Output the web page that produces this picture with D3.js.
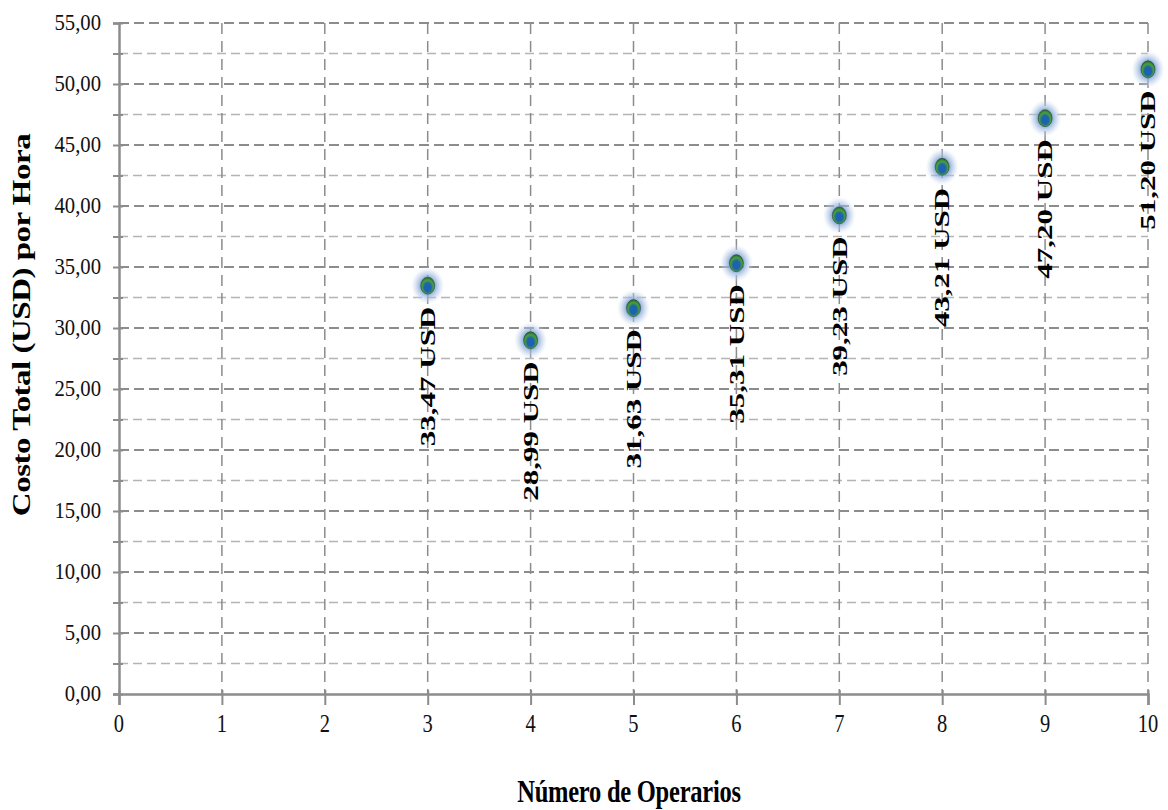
<!DOCTYPE html>
<html>
<head>
<meta charset="utf-8">
<script src="https://cdn.jsdelivr.net/npm/d3@7"></script>
<style>
  html, body { margin: 0; padding: 0; background: #fff; }
  svg { display: block; }
</style>
</head>
<body>
<svg id="chart" width="1168" height="810"></svg>
<script>
// ---- data ----
const operarios = [3, 4, 5, 6, 7, 8, 9, 10];
const costoTotal = [33.47, 28.99, 31.63, 35.31, 39.23, 43.21, 47.20, 51.20];
const pointLabels = ["33,47 USD", "28,99 USD", "31,63 USD", "35,31 USD", "39,23 USD", "43,21 USD", "47,20 USD", "51,20 USD"];
const xTickValues = [0, 1, 2, 3, 4, 5, 6, 7, 8, 9, 10];
const yTickValues = [0, 5, 10, 15, 20, 25, 30, 35, 40, 45, 50, 55];
const yMinorValues = [2.5, 7.5, 12.5, 17.5, 22.5, 27.5, 32.5, 37.5, 42.5, 47.5, 52.5];
const xTitle = "Número de Operarios";
const yTitle = "Costo Total (USD) por Hora";

// ---- layout ----
const svg = d3.select("#chart");
const x = d3.scaleLinear().domain([0, 10]).range([119, 1148]);
const y = d3.scaleLinear().domain([0, 55]).range([694, 23]);
const fmt = v => d3.format(".2f")(v).replace(".", ",");
const serif = "'Liberation Serif', 'Times New Roman', serif";

const defs = svg.append("defs");
const mg = defs.append("radialGradient").attr("id", "marker").attr("cx", "50%").attr("cy", "58%").attr("r", "55%").attr("fx", "50%").attr("fy", "62%");
mg.append("stop").attr("offset", "0%").attr("stop-color", "#1a5fc0");
mg.append("stop").attr("offset", "45%").attr("stop-color", "#1f64a6");
mg.append("stop").attr("offset", "75%").attr("stop-color", "#47a23a");
mg.append("stop").attr("offset", "100%").attr("stop-color", "#2c6b34");
const hg = defs.append("radialGradient").attr("id", "halo");
hg.append("stop").attr("offset", "0%").attr("stop-color", "#4f80c8").attr("stop-opacity", 1);
hg.append("stop").attr("offset", "45%").attr("stop-color", "#7fa2d6").attr("stop-opacity", 0.8);
hg.append("stop").attr("offset", "75%").attr("stop-color", "#b9cce8").attr("stop-opacity", 0.45);
hg.append("stop").attr("offset", "100%").attr("stop-color", "#e6edf7").attr("stop-opacity", 0);

// ---- grid ----
const grid = svg.append("g");
grid.selectAll("line.minor").data(yMinorValues).join("line")
  .attr("x1", x(0)).attr("x2", x(10)).attr("y1", d => y(d)).attr("y2", d => y(d))
  .attr("stroke", "#b4b4b4").attr("stroke-width", 1.5).attr("stroke-dasharray", "9,5");
grid.selectAll("line.major").data(yTickValues.filter(d => d > 0)).join("line")
  .attr("x1", x(0)).attr("x2", x(10)).attr("y1", d => y(d)).attr("y2", d => y(d))
  .attr("stroke", "#8c8c8c").attr("stroke-width", 2).attr("stroke-dasharray", "10,5");
grid.selectAll("line.vert").data(xTickValues.filter(d => d > 0)).join("line")
  .attr("x1", d => x(d)).attr("x2", d => x(d)).attr("y1", y(55)).attr("y2", y(0))
  .attr("stroke", "#8c8c8c").attr("stroke-width", 1.5).attr("stroke-dasharray", "11,7");

// ---- axes ----
const yAxisG = svg.append("g").attr("transform", `translate(${x(0)},0)`)
  .call(d3.axisLeft(y).tickValues(yTickValues).tickSize(6).tickFormat(""));
yAxisG.append("g").call(d3.axisLeft(y).tickValues(yMinorValues).tickSize(6).tickFormat(""));
yAxisG.selectAll(".domain").attr("stroke", "#8c8c8c").attr("stroke-width", 2.5);
yAxisG.selectAll(".tick line").attr("stroke", "#8c8c8c").attr("stroke-width", 2).attr("x2", -6).attr("x1", 4);
yAxisG.selectAll("path.domain").filter((d, i) => i > 0).remove();

const xAxisG = svg.append("g").attr("transform", `translate(0,${y(0)})`)
  .call(d3.axisBottom(x).tickValues(xTickValues).tickSize(11).tickFormat(""));
xAxisG.selectAll(".domain").attr("stroke", "#8c8c8c").attr("stroke-width", 2.5);
xAxisG.selectAll(".tick line").attr("stroke", "#8c8c8c").attr("stroke-width", 2).attr("y1", -4);

// tick labels
svg.append("g").selectAll("text").data(yTickValues).join("text")
  .attr("transform", d => `translate(101,${y(d)}) scale(0.9,1)`)
  .attr("text-anchor", "end").attr("dominant-baseline", "central")
  .attr("font-family", serif).attr("font-size", 23).attr("fill", "#111")
  .text(d => fmt(d));
svg.append("g").selectAll("text").data(xTickValues).join("text")
  .attr("transform", d => `translate(${x(d)},732) scale(0.82,1)`)
  .attr("text-anchor", "middle")
  .attr("font-family", serif).attr("font-size", 25).attr("fill", "#111")
  .text(d => d);

// ---- titles ----
svg.append("text")
  .attr("transform", `translate(629,802) scale(0.79,1)`)
  .attr("text-anchor", "middle").attr("font-family", serif).attr("font-weight", "bold")
  .attr("font-size", 31).attr("fill", "#000").attr("letter-spacing", -0.3).text(xTitle);
svg.append("text")
  .attr("transform", `translate(30,325) scale(0.76,1) rotate(-90)`)
  .attr("text-anchor", "middle").attr("font-family", serif).attr("font-weight", "bold")
  .attr("font-size", 33).attr("fill", "#000").attr("letter-spacing", -0.5).text(yTitle);

// ---- points ----
const pts = svg.append("g").selectAll("g").data(operarios).join("g")
  .attr("transform", (d, i) => `translate(${x(d)},${y(costoTotal[i])})`);
pts.append("ellipse").attr("rx", 17).attr("ry", 19).attr("fill", "url(#halo)");
pts.append("ellipse").attr("rx", 7).attr("ry", 8.5).attr("fill", "url(#marker)")
  .attr("stroke", "#2b4a3a").attr("stroke-width", 0.6);

// ---- data labels ----
svg.append("g").selectAll("text").data(operarios).join("text")
  .attr("transform", (d, i) => `translate(${x(d)},${y(costoTotal[i]) + 21}) scale(0.7,1) rotate(-90)`)
  .attr("text-anchor", "end").attr("dominant-baseline", "central")
  .attr("font-family", serif).attr("font-weight", "bold").attr("font-size", 31).attr("fill", "#000")
  .text((d, i) => pointLabels[i]);
</script>
</body>
</html>
